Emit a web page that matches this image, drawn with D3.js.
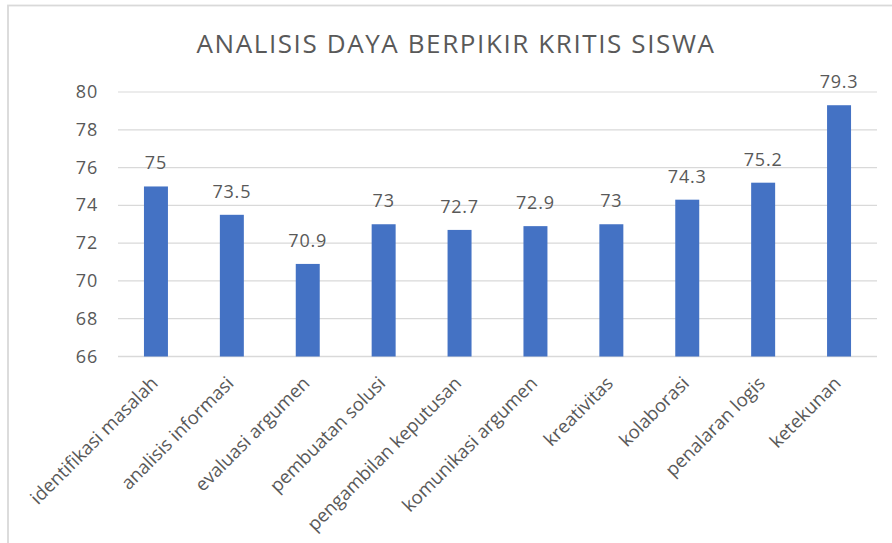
<!DOCTYPE html>
<html>
<head>
<meta charset="utf-8">
<script src="https://cdn.jsdelivr.net/npm/d3@7"></script>
<style>
  body { margin: 0; background: #fff; }
  svg text { font-family: "Open Sans", "Noto Sans", sans-serif; fill: #595959; }
</style>
</head>
<body>
<div id="chart"></div>
<script>
// data
const categories = [
  'identifikasi masalah', 'analisis informasi', 'evaluasi argumen',
  'pembuatan solusi', 'pengambilan keputusan', 'komunikasi argumen',
  'kreativitas', 'kolaborasi', 'penalaran logis', 'ketekunan'
];
const scores = [75, 73.5, 70.9, 73, 72.7, 72.9, 73, 74.3, 75.2, 79.3];
const yTicks = [66, 68, 70, 72, 74, 76, 78, 80];
const title = 'ANALISIS DAYA BERPIKIR KRITIS SISWA';

const W = 892, H = 543;
const margin = { top: 92, right: 15, bottom: 186.5, left: 118 };
const width = W - margin.left - margin.right,
  height = H - margin.top - margin.bottom;

const svg = d3.select('#chart').append('svg')
  .attr('width', W)
  .attr('height', H);

// chart frame
svg.append('rect')
  .attr('x', 8).attr('y', 5.5)
  .attr('width', 950).attr('height', 600)
  .attr('fill', 'none')
  .attr('stroke', '#d9d9d9')
  .attr('stroke-width', 1.8);

svg.append('text')
  .attr('x', 456)
  .attr('y', 53)
  .attr('text-anchor', 'middle')
  .style('font-size', '26px')
  .style('letter-spacing', '1.6px')
  .text(title);

const g = svg.append('g')
  .attr('transform', 'translate(' + margin.left + ',' + margin.top + ')');

const x = d3.scaleBand().domain(categories).range([0, width]).paddingInner(0.684).paddingOuter(0.342);
const y = d3.scaleLinear().domain([66, 80]).range([height, 0]);

// gridlines
g.selectAll('line.grid')
  .data(yTicks)
  .enter().append('line')
  .attr('class', 'grid')
  .attr('x1', 0).attr('x2', width)
  .attr('y1', d => y(d)).attr('y2', d => y(d))
  .attr('stroke', '#d9d9d9')
  .attr('stroke-width', d => d === 66 ? 1.5 : 1.2);

// y labels
g.selectAll('text.ytick')
  .data(yTicks)
  .enter().append('text')
  .attr('class', 'ytick')
  .attr('x', -20)
  .attr('y', d => y(d) + 6)
  .attr('text-anchor', 'end')
  .style('font-size', '18px')
  .style('letter-spacing', '0.8px')
  .text(d => d);

// bars
g.selectAll('rect.bar')
  .data(scores)
  .enter().append('rect')
  .attr('class', 'bar')
  .attr('x', (d, i) => x(categories[i]))
  .attr('width', x.bandwidth())
  .attr('y', d => y(d))
  .attr('height', d => height - y(d))
  .attr('fill', '#4472c4');

// value labels
g.selectAll('text.val')
  .data(scores)
  .enter().append('text')
  .attr('class', 'val')
  .attr('x', (d, i) => x(categories[i]) + x.bandwidth() / 2)
  .attr('y', d => y(d) - 17)
  .attr('text-anchor', 'middle')
  .style('font-size', '18px')
  .style('letter-spacing', '0.8px')
  .text(d => d);

// category labels, rotated
g.selectAll('text.cat')
  .data(categories)
  .enter().append('text')
  .attr('class', 'cat')
  .attr('text-anchor', 'end')
  .attr('transform', d => 'translate(' + (x(d) + x.bandwidth() / 2 + 3) + ',' + (height + 28) + ') rotate(-45)')
  .style('font-size', '18.5px')
  .text(d => d);
</script>
</body>
</html>
